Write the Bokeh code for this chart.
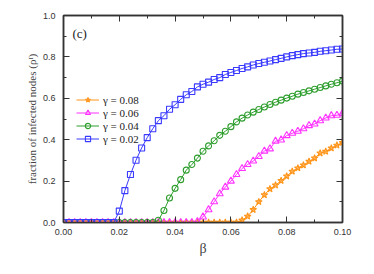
from bokeh.plotting import figure
from bokeh.models import (FixedTicker, NumeralTickFormatter, LinearAxis, Label, Legend,
                          LegendItem, Range1d, CustomLabelingPolicy)
from bokeh.embed import file_html
from bokeh.resources import INLINE

beta = [0.000, 0.002, 0.004, 0.006, 0.008, 0.010, 0.012, 0.014, 0.016, 0.018,
        0.020, 0.022, 0.024, 0.026, 0.028, 0.030, 0.032, 0.034, 0.036, 0.038,
        0.040, 0.042, 0.044, 0.046, 0.048, 0.050, 0.052, 0.054, 0.056, 0.058,
        0.060, 0.062, 0.064, 0.066, 0.068, 0.070, 0.072, 0.074, 0.076, 0.078,
        0.080, 0.082, 0.084, 0.086, 0.088, 0.090, 0.092, 0.094, 0.096, 0.098,
        0.100]

rho_g002 = [0, 0, 0, 0, 0, 0, 0, 0, 0, 0,
            0.055, 0.154, 0.232, 0.301, 0.360, 0.410, 0.453, 0.492, 0.516, 0.547,
            0.569, 0.595, 0.617, 0.633, 0.655, 0.668, 0.678, 0.691, 0.700, 0.715,
            0.725, 0.734, 0.744, 0.752, 0.761, 0.768, 0.774, 0.780, 0.787, 0.793,
            0.800, 0.806, 0.811, 0.816, 0.819, 0.822, 0.827, 0.830, 0.833, 0.837,
            0.838]

rho_g004 = [0, 0, 0, 0, 0, 0, 0, 0, 0, 0,
            0, 0, 0, 0, 0, 0, 0, 0.011, 0.058, 0.118,
            0.165, 0.207, 0.253, 0.280, 0.311, 0.344, 0.370, 0.395, 0.421, 0.441,
            0.463, 0.486, 0.504, 0.519, 0.533, 0.546, 0.558, 0.570, 0.581, 0.591,
            0.601, 0.610, 0.620, 0.628, 0.636, 0.644, 0.652, 0.660, 0.668, 0.675,
            0.683]

rho_g006 = [0, 0, 0, 0, 0, 0, 0, 0, 0, 0,
            0, 0, 0, 0, 0, 0, 0, 0, 0, 0,
            0, 0, 0, 0, 0.004, 0.027, 0.062, 0.100, 0.139, 0.171,
            0.200, 0.232, 0.261, 0.280, 0.297, 0.319, 0.345, 0.356, 0.393, 0.399,
            0.420, 0.431, 0.441, 0.453, 0.468, 0.476, 0.492, 0.505, 0.516, 0.518,
            0.527]

rho_g008 = [0, 0, 0, 0, 0, 0, 0, 0, 0, 0,
            0, 0, 0, 0, 0, 0, 0, 0, 0, 0,
            0, 0, 0, 0, 0, 0, 0, 0, 0, 0,
            0, 0, 0.011, 0.030, 0.062, 0.100, 0.133, 0.162, 0.180, 0.202,
            0.224, 0.247, 0.263, 0.277, 0.295, 0.311, 0.335, 0.343, 0.359, 0.373,
            0.386]

x_ticks = [0.00, 0.02, 0.04, 0.06, 0.08, 0.10]
x_minor = [0.01, 0.03, 0.05, 0.07, 0.09]
y_ticks = [0.0, 0.2, 0.4, 0.6, 0.8, 1.0]
y_minor = [0.1, 0.3, 0.5, 0.7, 0.9]

labels = ["\u03b3 = 0.08", "\u03b3 = 0.06", "\u03b3 = 0.04", "\u03b3 = 0.02"]
colors = ["#ff9419", "#ff33ff", "#2e9e2e", "#3a3aff"]

p = figure(width=358, height=258, output_backend="svg", toolbar_location=None,
           x_range=Range1d(0, 0.1), y_range=Range1d(0, 1.0),
           min_border_left=63, min_border_right=13, min_border_top=15, min_border_bottom=33)
p.grid.visible = False
p.outline_line_color = "#333333"
p.outline_line_width = 1.5
p.background_fill_color = "white"
p.border_fill_color = "white"

def style_axis(ax, ticks, minor, fmt, show_labels):
    ax.ticker = FixedTicker(ticks=ticks, minor_ticks=minor)
    ax.formatter = NumeralTickFormatter(format=fmt)
    ax.major_tick_in = 6
    ax.major_tick_out = 0
    ax.minor_tick_in = 3
    ax.minor_tick_out = 0
    ax.axis_line_color = "#333333"
    ax.axis_line_width = 1.5
    ax.major_tick_line_color = "#333333"
    ax.minor_tick_line_color = "#333333"
    ax.major_label_text_font = "Liberation Sans"
    ax.major_label_text_font_size = "9px"
    ax.major_label_text_color = "#333333"
    if not show_labels:
        ax.major_label_policy = CustomLabelingPolicy(
            code="for (const i of [...indices]) { indices.unset(i) }\nreturn indices")
        ax.major_label_standoff = 0

xa = p.xaxis[0]
ya = p.yaxis[0]
style_axis(xa, x_ticks, x_minor, "0.00", True)
style_axis(ya, y_ticks, y_minor, "0.0", True)
xa.major_label_standoff = 6
ya.major_label_standoff = 8
xa.axis_label = "\u03b2"
xa.axis_label_text_font = "Liberation Serif"
xa.axis_label_text_font_style = "normal"
xa.axis_label_text_font_size = "14px"
xa.axis_label_standoff = 3
ya.axis_label = "fraction of infected nodes (\u03c1\u1d35)"
ya.axis_label_text_font = "Liberation Serif"
ya.axis_label_text_font_style = "normal"
ya.axis_label_text_font_size = "11px"
ya.axis_label_standoff = 2

top = LinearAxis()
style_axis(top, x_ticks, x_minor, "0.00", False)
p.add_layout(top, "above")
right = LinearAxis()
style_axis(right, y_ticks, y_minor, "0.0", False)
p.add_layout(right, "right")

series = [rho_g008, rho_g006, rho_g004, rho_g002]
markers = ["star", "triangle", "circle", "square"]
sizes = [7, 7, 6, 6]
items = []
for ys, col, mk, sz, lab in zip(series, colors, markers, sizes, labels):
    ln = p.line(beta, ys, line_color=col, line_width=1)
    fill = col if mk == "star" else None
    sc = p.scatter(beta, ys, marker=mk, size=sz, line_color=col, fill_color=fill,
                   fill_alpha=0.5, line_width=1.1)
    items.append(LegendItem(label=lab, renderers=[ln, sc]))

legend = Legend(items=items, location=(13, 77))
legend.background_fill_alpha = 0
legend.border_line_alpha = 0
legend.padding = 0
legend.margin = 0
legend.spacing = 0
legend.glyph_width = 23
legend.glyph_height = 13
legend.label_height = 13
legend.label_standoff = 4
legend.label_text_font = "Liberation Serif"
legend.label_text_font_size = "11px"
legend.label_text_color = "#222222"
p.add_layout(legend)

p.add_layout(Label(x=0.0032, y=0.913, text="(c)", text_font="Liberation Serif",
                   text_font_size="13px", text_baseline="middle", text_color="#222222"))

open("out.html", "w").write(file_html(p, INLINE))
